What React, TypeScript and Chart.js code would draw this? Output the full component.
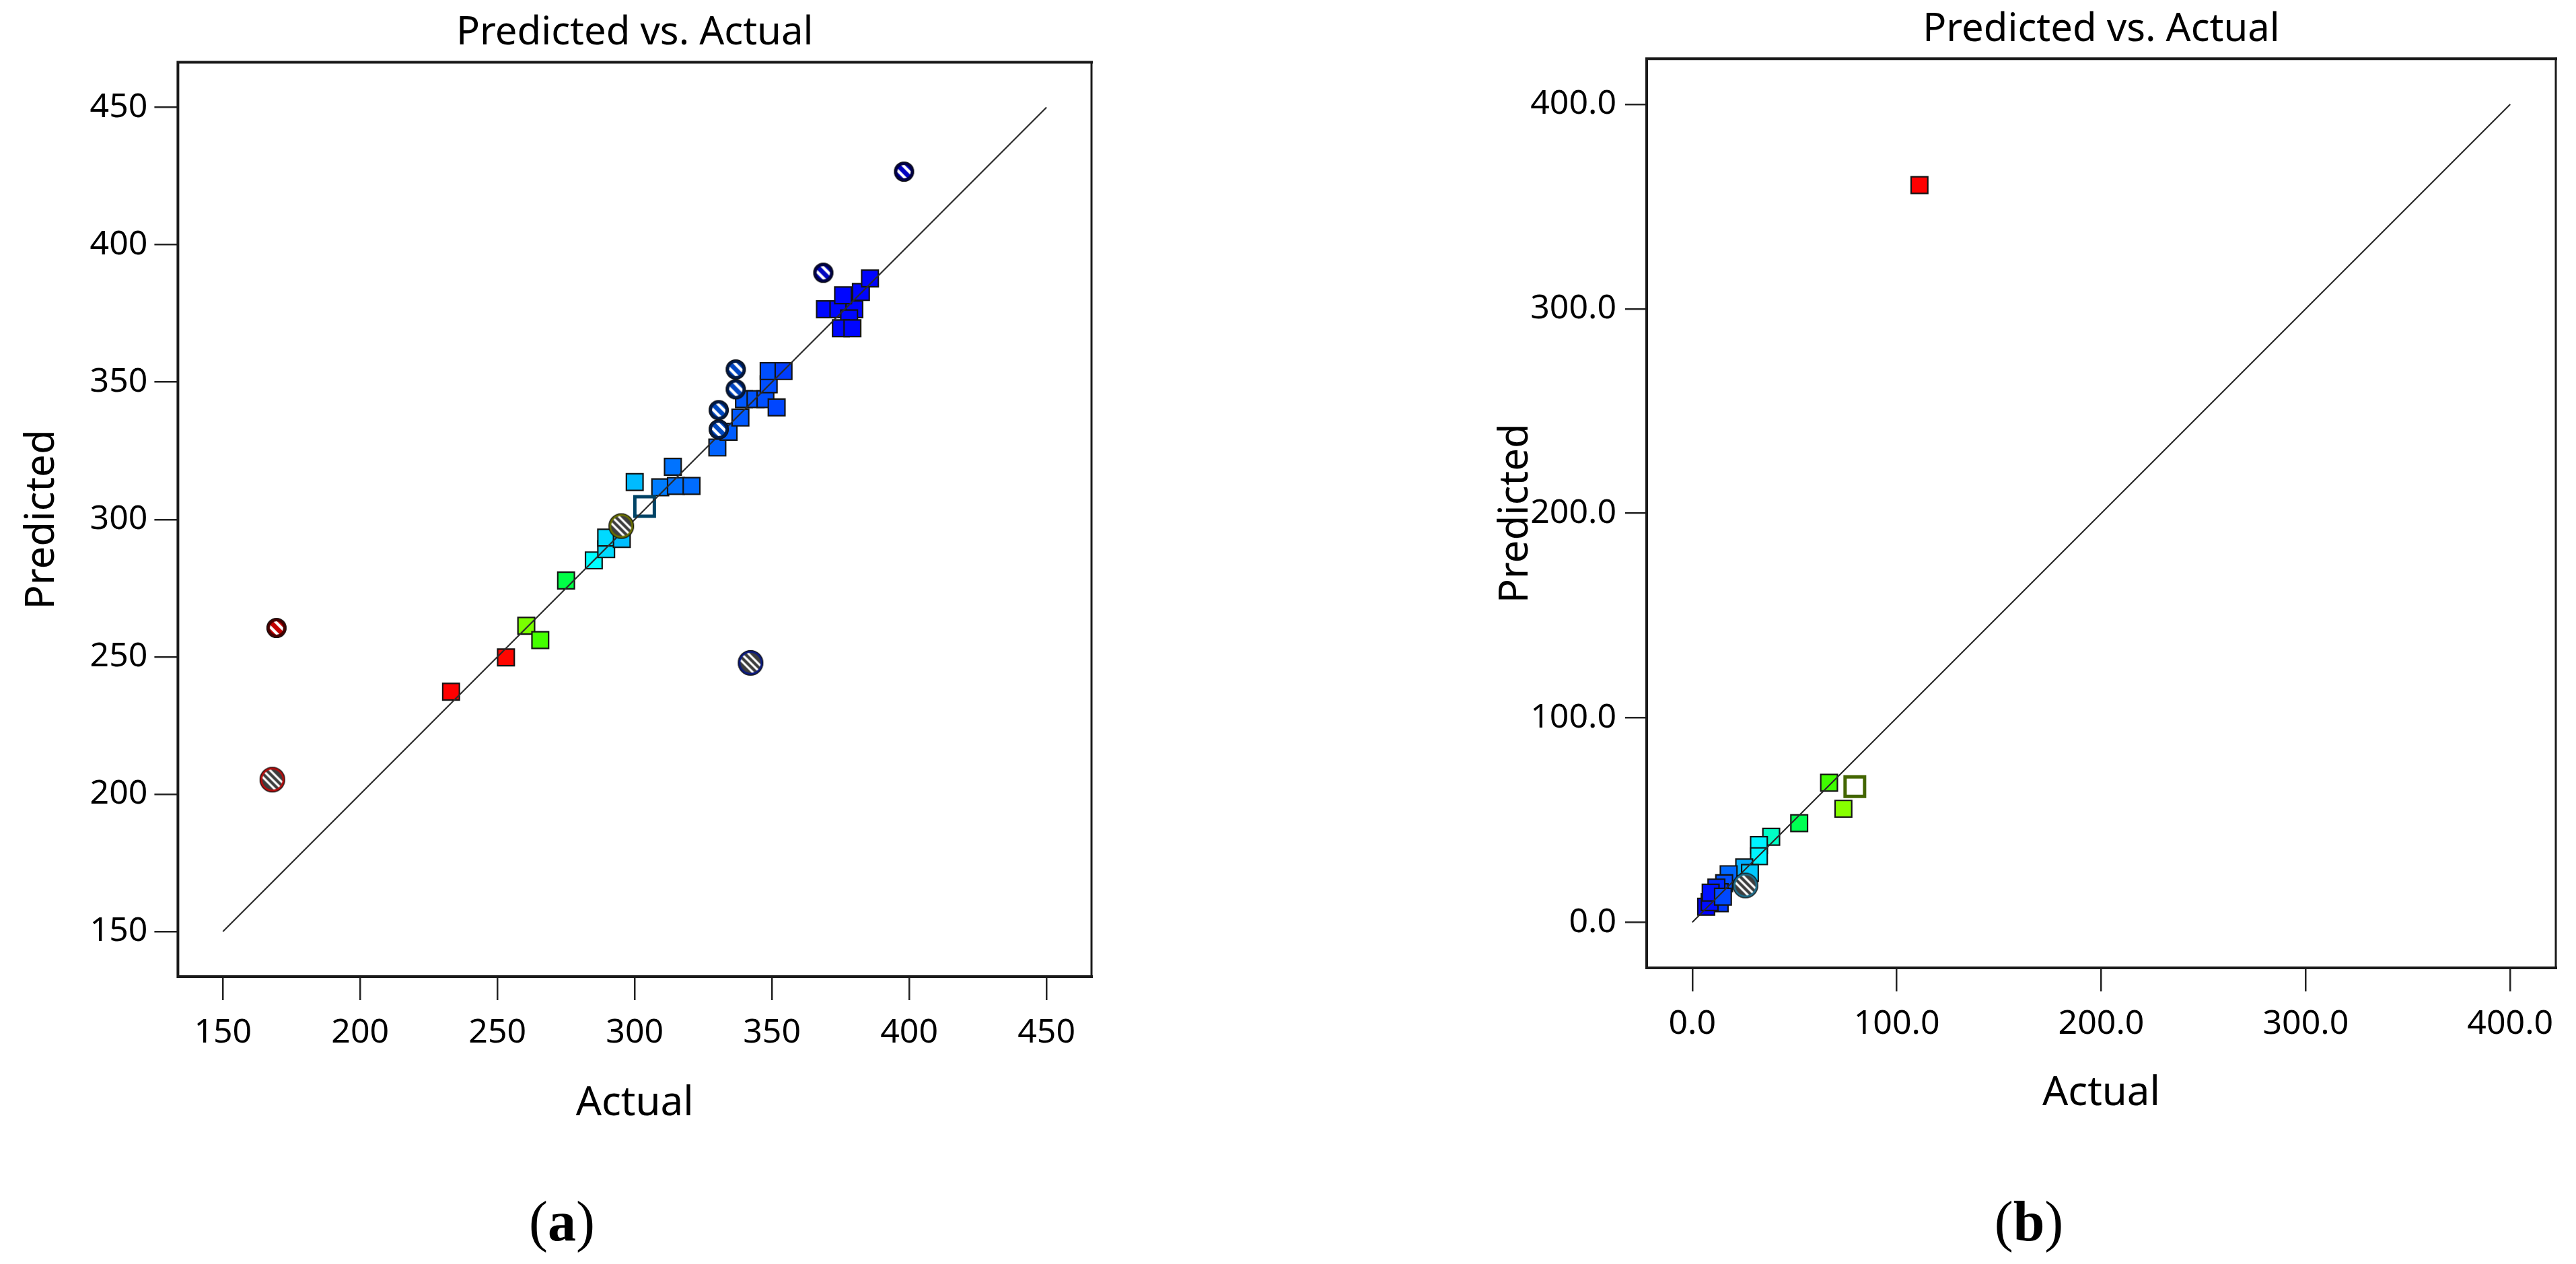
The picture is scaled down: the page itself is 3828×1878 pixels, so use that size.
import React, { useEffect, useRef } from "react";
import { Chart, registerables } from "chart.js";

Chart.register(...registerables);

const FONT = "'Noto Sans', 'DejaVu Sans', sans-serif";
const TITLE_TEXT = "Predicted vs. Actual";
const X_TITLE = "Actual";
const Y_TITLE = "Predicted";

// ---------- Panel (a) ----------
const A_TICKS = [150, 200, 250, 300, 350, 400, 450];
const A_MIN = 133.6;
const A_MAX = 466.4;
const A_DIAG = [150, 450];
const A_SQ_ACTUAL = [
  233.1, 253.1, 260.5, 265.6, 275.0, 285.1, 289.6, 289.6, 295.3, 300.0,
  309.3, 315.0, 320.7, 313.9, 330.1, 334.2, 338.5, 339.8, 344.0, 347.6,
  351.7, 348.8, 348.8, 354.2, 369.3, 374.2, 380.0, 375.9, 382.4, 385.7,
  378.1, 375.1, 379.3,
];
const A_SQ_PRED = [
  237.3, 249.8, 261.3, 256.1, 277.8, 285.1, 289.2, 293.4, 292.9, 313.6,
  311.7, 312.2, 312.2, 319.2, 326.2, 331.9, 337.1, 343.8, 343.8, 343.8,
  340.8, 349.2, 354.0, 354.0, 376.5, 376.5, 376.5, 381.6, 382.8, 387.7,
  373.2, 369.6, 369.6,
];
const A_HOLLOW_ACTUAL = [303.6];
const A_HOLLOW_PRED = [304.7];
const A_FLAG_S_ACTUAL = [169.5, 398.1, 368.7, 330.6, 330.6, 336.8, 336.8];
const A_FLAG_S_PRED = [260.5, 426.6, 389.8, 332.8, 339.8, 354.6, 347.4];
const A_FLAG_L_ACTUAL = [168.0, 342.2, 295.1];
const A_FLAG_L_PRED = [205.3, 247.8, 297.6];

// ---------- Panel (b) ----------
const B_TICKS = [0, 100, 200, 300, 400];
const B_MIN = -22.3;
const B_MAX = 422.3;
const B_DIAG = [0, 400];
const B_SQ_ACTUAL = [
  111.1, 66.9, 73.9, 52.3, 38.6, 32.6, 32.6, 25.4, 28.2, 17.8,
  15.6, 13.4, 10.1, 13.4, 6.8, 8.5, 11.8, 9.0, 15.0,
];
const B_SQ_PRED = [
  360.5, 68.2, 55.5, 48.5, 41.8, 37.8, 32.3, 26.8, 24.1, 23.5,
  19.1, 14.7, 12.0, 9.3, 7.6, 9.8, 17.0, 14.5, 12.5,
];
const B_HOLLOW_ACTUAL = [79.5];
const B_HOLLOW_PRED = [66.3];
const B_FLAG_L_ACTUAL = [26.0];
const B_FLAG_L_PRED = [18.0];

// ---------- styles ----------
const A_HUE_STOPS: number[][] = [
  [233, 0], [253, 0], [260, 90], [266, 105], [276, 140], [285, 180],
  [293, 195], [301, 196], [310, 212], [350, 222], [368, 238], [400, 240],
];
const B_HUE_STOPS: number[][] = [
  [7, 240], [13, 228], [18, 215], [26, 198], [33, 182], [39, 165],
  [52, 140], [67, 105], [74, 88], [80, 80], [111, 0],
];
const A_BIG_RING = ["#b80d0d", "#0b1a80", "#6a7000"];
const B_BIG_RING = ["#1f6f8c"];

function hueAt(v: number, stops: number[][]) {
  if (v <= stops[0][0]) return stops[0][1];
  for (let i = 1; i < stops.length; i++) {
    if (v <= stops[i][0]) {
      const [x0, h0] = stops[i - 1];
      const [x1, h1] = stops[i];
      return h0 + ((v - x0) / (x1 - x0)) * (h1 - h0);
    }
  }
  return stops[stops.length - 1][1];
}
const hsl = (h: number, l: number) => `hsl(${h.toFixed(1)}, 100%, ${l}%)`;

function hatched(d: number, ring: string, fill: string, stripes: number[], stripeW: number, ringW: number) {
  const c = document.createElement("canvas");
  const s = Math.ceil(d + 2);
  c.width = s;
  c.height = s;
  const g = c.getContext("2d")!;
  const cx = s / 2;
  const r = d / 2;
  g.beginPath();
  g.arc(cx, cx, r - 0.5, 0, Math.PI * 2);
  g.fillStyle = fill;
  g.fill();
  g.save();
  g.beginPath();
  g.arc(cx, cx, r - ringW, 0, Math.PI * 2);
  g.clip();
  g.translate(cx, cx);
  g.rotate(-Math.PI / 4);
  g.fillStyle = "#ffffff";
  for (const o of stripes) g.fillRect(o - stripeW / 2, -r, stripeW, 2 * r);
  g.restore();
  g.beginPath();
  g.arc(cx, cx, r - ringW / 2 - 0.5, 0, Math.PI * 2);
  g.lineWidth = ringW;
  g.strokeStyle = ring;
  g.stroke();
  g.beginPath();
  g.arc(cx, cx, r - 0.6, 0, Math.PI * 2);
  g.lineWidth = 1.3;
  g.strokeStyle = "#111";
  g.stroke();
  return c;
}

const framePlugin = {
  id: "frame",
  beforeDatasetsDraw(chart: any) {
    const { ctx, chartArea } = chart;
    const { left, right, top, bottom } = chartArea;
    ctx.save();
    ctx.strokeStyle = "#1a1a1a";
    ctx.lineCap = "square";
    ctx.lineWidth = 4;
    ctx.beginPath();
    ctx.moveTo(right, top);
    ctx.lineTo(left, top);
    ctx.lineTo(left, bottom);
    ctx.lineTo(right, bottom);
    ctx.stroke();
    ctx.lineWidth = 3;
    ctx.beginPath();
    ctx.moveTo(right, top);
    ctx.lineTo(right, bottom);
    ctx.stroke();
    ctx.restore();
  },
};

type PanelCfg = {
  ticks: number[];
  min: number;
  max: number;
  diag: number[];
  sqA: number[];
  sqP: number[];
  hoA: number[];
  hoP: number[];
  fsA: number[];
  fsP: number[];
  flA: number[];
  flP: number[];
  stops: number[][];
  bigRing: string[];
  fmt: (v: number) => string;
  yWidth: number;
  yTickLen: number;
  yPad: number;
  yTitlePad: number;
  titlePad: { top: number; bottom: number };
  xTitlePadBottom: number;
  padRight: number;
};

function buildChart(canvas: HTMLCanvasElement, p: PanelCfg) {
  const pts = (xs: number[], ys: number[]) => xs.map((x, i) => ({ x, y: ys[i] }));
  const sqColors = p.sqA.map((v) => hsl(hueAt(v, p.stops), 50));
  const hoBorder = p.hoA.map((v) => hsl(hueAt(v, p.stops), 20));
  const smallImgs = p.fsA.map((v) => {
    const h = hueAt(v, p.stops);
    return hatched(30, hsl(h, 14), hsl(h, 38), [-5.5, 5.5], 4.2, 4.5);
  });
  const bigImgs = p.flA.map((_, i) => hatched(38, p.bigRing[i], "#3d3d3d", [-7.5, 0, 7.5], 3.2, 3.5));

  const tickFont = { family: FONT, size: 50 };
  const titleFont = { family: FONT, size: 60 };

  return new Chart(canvas, {
    type: "scatter",
    data: {
      datasets: [
        {
          data: pts(p.fsA, p.fsP),
          pointStyle: smallImgs as any,
          pointRadius: 15,
          order: 0,
        },
        {
          data: pts(p.flA, p.flP),
          pointStyle: bigImgs as any,
          pointRadius: 19,
          order: 0,
        },
        {
          data: pts(p.diag, p.diag),
          showLine: true,
          borderColor: "#2b2b2b",
          borderWidth: 2.2,
          pointRadius: 0,
          order: 1,
        },
        {
          data: pts(p.hoA, p.hoP),
          pointStyle: "rect",
          pointRadius: 20.5,
          backgroundColor: "#ffffff",
          borderColor: hoBorder,
          borderWidth: 5,
          order: 2,
        },
        {
          data: pts(p.sqA, p.sqP),
          pointStyle: "rect",
          pointRadius: 17.5,
          backgroundColor: sqColors,
          borderColor: "#141414",
          borderWidth: 2.2,
          order: 3,
        },
      ],
    } as any,
    options: {
      animation: false,
      responsive: false,
      devicePixelRatio: 1,
      events: [],
      layout: { padding: { left: 0, right: p.padRight, top: 0, bottom: 0 } },
      plugins: {
        legend: { display: false },
        tooltip: { enabled: false },
        title: {
          display: true,
          text: TITLE_TEXT,
          fullSize: false,
          color: "#000",
          font: { family: FONT, size: 58, weight: "normal" },
          padding: p.titlePad,
        },
      },
      scales: {
        x: {
          type: "linear",
          min: p.min,
          max: p.max,
          afterBuildTicks: (s: any) => {
            s.ticks = p.ticks.map((v) => ({ value: v }));
          },
          afterFit: (s: any) => {
            s.height = 230;
          },
          grid: { display: true, drawOnChartArea: false, drawTicks: true, tickLength: 35, color: "#222", lineWidth: 2.5 },
          border: { display: false },
          ticks: { font: tickFont, color: "#000", padding: 19, maxRotation: 0, autoSkip: false, callback: (v: any) => p.fmt(Number(v)) },
          title: { display: true, text: X_TITLE, color: "#000", font: titleFont, padding: { top: 0, bottom: p.xTitlePadBottom } },
        },
        y: {
          type: "linear",
          min: p.min,
          max: p.max,
          afterBuildTicks: (s: any) => {
            s.ticks = p.ticks.map((v) => ({ value: v }));
          },
          afterFit: (s: any) => {
            s.width = p.yWidth;
          },
          grid: { display: true, drawOnChartArea: false, drawTicks: true, tickLength: p.yTickLen, color: "#222", lineWidth: 2.5 },
          border: { display: false },
          ticks: { font: tickFont, color: "#000", padding: p.yPad, autoSkip: false, callback: (v: any) => p.fmt(Number(v)) },
          title: { display: true, text: Y_TITLE, color: "#000", font: titleFont, padding: { top: p.yTitlePad, bottom: 0 } },
        },
      },
    } as any,
    plugins: [framePlugin],
  });
}

const PANEL_A: PanelCfg = {
  ticks: A_TICKS, min: A_MIN, max: A_MAX, diag: A_DIAG,
  sqA: A_SQ_ACTUAL, sqP: A_SQ_PRED, hoA: A_HOLLOW_ACTUAL, hoP: A_HOLLOW_PRED,
  fsA: A_FLAG_S_ACTUAL, fsP: A_FLAG_S_PRED, flA: A_FLAG_L_ACTUAL, flP: A_FLAG_L_PRED,
  stops: A_HUE_STOPS, bigRing: A_BIG_RING, fmt: (v) => String(v),
  yWidth: 264.4, yTickLen: 35, yPad: 10, yTitlePad: 26.5,
  titlePad: { top: 14.7, bottom: 8.3 }, xTitlePadBottom: 5, padRight: 78,
};

const PANEL_B: PanelCfg = {
  ticks: B_TICKS, min: B_MIN, max: B_MAX, diag: B_DIAG,
  sqA: B_SQ_ACTUAL, sqP: B_SQ_PRED, hoA: B_HOLLOW_ACTUAL, hoP: B_HOLLOW_PRED,
  fsA: [], fsP: [], flA: B_FLAG_L_ACTUAL, flP: B_FLAG_L_PRED,
  stops: B_HUE_STOPS, bigRing: B_BIG_RING, fmt: (v) => v.toFixed(1),
  yWidth: 297, yTickLen: 32, yPad: 13, yTitlePad: 67,
  titlePad: { top: 9.7, bottom: 8 }, xTitlePadBottom: 7.3, padRight: 30,
};

function Panel({ cfg, left, width, height }: { cfg: PanelCfg; left: number; width: number; height: number }) {
  const ref = useRef<HTMLCanvasElement>(null);
  useEffect(() => {
    if (!ref.current) return;
    const chart = buildChart(ref.current, cfg);
    return () => chart.destroy();
  }, [cfg]);
  return (
    <canvas
      ref={ref}
      width={width}
      height={height}
      style={{ position: "absolute", left, top: 0, width, height }}
    />
  );
}

const labelStyle = (cx: number): React.CSSProperties => ({
  position: "absolute",
  left: cx - 100,
  width: 200,
  top: 1773,
  textAlign: "center",
  fontFamily: "'Liberation Serif', 'Times New Roman', serif",
  fontSize: 84,
  lineHeight: 1,
  color: "#000",
});

export default function App() {
  return (
    <div style={{ position: "absolute", left: 0, top: 0, width: 3828, height: 1878, background: "#fff", overflow: "hidden" }}>
      <Panel cfg={PANEL_A} left={0} width={1700} height={1681} />
      <Panel cfg={PANEL_B} left={2150} width={1678} height={1668} />
      <div style={labelStyle(835)}>(<b>a</b>)</div>
      <div style={labelStyle(3015)}>(<b>b</b>)</div>
    </div>
  );
}
